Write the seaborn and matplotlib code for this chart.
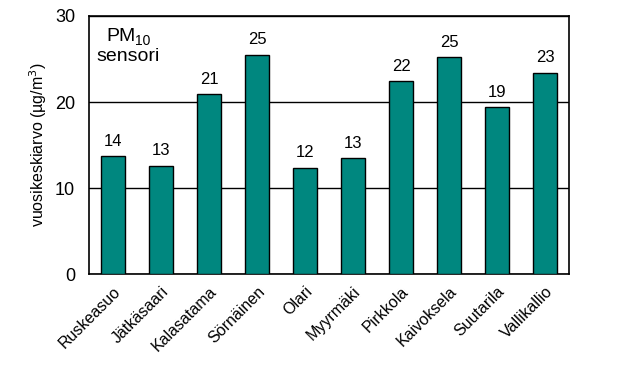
import matplotlib
matplotlib.use("Agg")
import matplotlib.pyplot as plt
import seaborn as sns
import pandas as pd

stations = ["Ruskeasuo", "Jätkäsaari", "Kalasatama", "Sörnäinen", "Olari",
            "Myyrmäki", "Pirkkola", "Kaivoksela", "Suutarila", "Vallikallio"]
values = [13.7, 12.55, 20.9, 25.45, 12.4, 13.45, 22.4, 25.2, 19.4, 23.35]
labels = ["14", "13", "21", "25", "12", "13", "22", "25", "19", "23"]
yticks = [0, 10, 20, 30]

sns.set_theme(style="white")
plt.rcParams['font.family'] = ['Liberation Sans', 'DejaVu Sans']
plt.rcParams.update({"text.color": "black", "xtick.color": "black",
                     "ytick.color": "black", "axes.labelcolor": "black"})

df = pd.DataFrame({"station": stations, "value": values})

fig = plt.figure(figsize=(6.24, 3.77), dpi=100)
ax = fig.add_axes([0.1426, 0.2724, 0.7694, 0.6852])

sns.barplot(data=df, x="station", y="value", ax=ax, color="#00877f",
            saturation=1, width=0.5, edgecolor="black", linewidth=1.0, zorder=3)

for i, (v, t) in enumerate(zip(values, labels)):
    ax.text(i, v + 0.9, t, ha="center", va="bottom", fontsize=12, color="black")

ax.set_ylim(0, 30)
ax.set_xlim(-0.5, len(stations) - 0.5)
ax.set_yticks(yticks)
ax.set_yticklabels([str(t) for t in yticks], fontsize=13)
ax.yaxis.grid(True, color="black", linewidth=1.0, zorder=0)
ax.set_axisbelow(True)
ax.tick_params(axis="y", length=0, pad=10)
ax.tick_params(axis="x", length=0, pad=7)
ax.set_xticks(range(len(stations)))
ax.set_xticklabels(stations, rotation=45, ha="right", rotation_mode="anchor",
                   fontsize=11.5)
ax.set_xlabel("")
ax.set_ylabel("vuosikeskiarvo (µg/m$^3$)", fontsize=11.5, labelpad=4)
for s in ax.spines.values():
    s.set_color("black")
    s.set_linewidth(1.2)
    s.set_visible(True)

ax.text(0.036, 0.955, "PM", transform=ax.transAxes, fontsize=14,
        ha="left", va="top")
ax.text(0.095, 0.93, "10", transform=ax.transAxes, fontsize=10,
        ha="left", va="top")
ax.text(0.016, 0.875, "sensori", transform=ax.transAxes, fontsize=14,
        ha="left", va="top", fontweight="medium")

fig.savefig("out.png", dpi=100)
